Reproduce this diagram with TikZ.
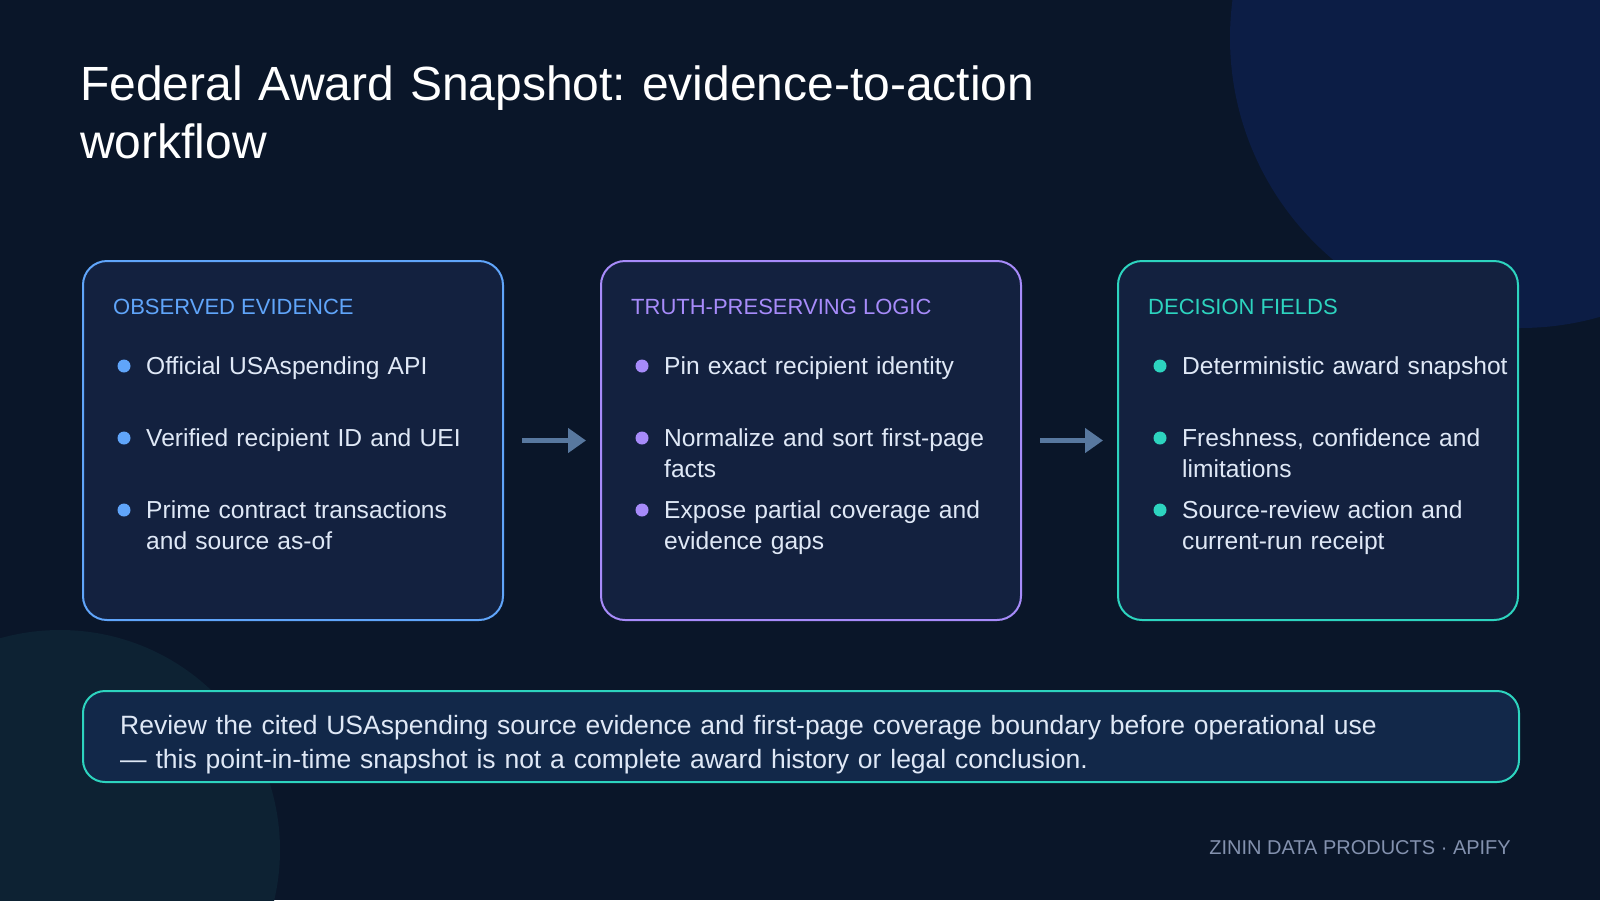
\documentclass[tikz,border=0pt]{standalone}
\usepackage{fontspec}
\setmainfont{Liberation Sans}
\frenchspacing
\usetikzlibrary{arrows.meta,positioning}
\definecolor{bgdark}{HTML}{0A1629}
\definecolor{cardfill}{HTML}{13213F}
\definecolor{obsblue}{HTML}{60A5FA}
\definecolor{logicpurple}{HTML}{A78BFA}
\definecolor{fieldteal}{HTML}{2DD4BF}
\definecolor{itemtext}{HTML}{DFE8F6}
\definecolor{arrowgrey}{HTML}{58789F}
\definecolor{footgrey}{HTML}{8391AE}
\definecolor{glowblue}{HTML}{0C1D45}
\definecolor{glowteal}{HTML}{0D2233}
\definecolor{notefill}{HTML}{122849}

\begin{document}
\begin{tikzpicture}[x=1pt,y=-1pt,
  card/.style={draw=#1,line width=2pt,fill=cardfill,rounded corners=24pt,anchor=north west,minimum height=359pt,inner sep=0pt},
  head/.style={anchor=base west,inner sep=0pt,text=#1,font=\fontsize{22}{26}\selectfont},
  item/.style={anchor=base west,inner sep=0pt,text=itemtext,text width=360pt,align=left,font=\fontsize{24.6}{31.5}\selectfont},
  flow/.style={draw=arrowgrey,line width=5pt,-{Triangle[length=18pt,width=24pt]},shorten <=18pt,shorten >=14pt}]
\useasboundingbox (0,0) rectangle (1600,900);
\fill[bgdark] (0,0) rectangle (1600,900);
% background glows
\begin{scope}
\clip (0,0) rectangle (1600,900);
\fill[glowblue] (1520,38) circle (290);
\fill[glowteal] (60,850) circle (220);
\end{scope}

\node[anchor=base west,inner sep=0pt,text=white,text width=1100pt,align=left,font=\fontsize{48}{58}\selectfont] (title) at (80,100) {Federal Award Snapshot: evidence-to-action\\workflow};

% observed evidence
\node[card=obsblue,minimum width=420pt] (obs) at (82,260) {};
\node[head=obsblue] (obsh) at (113,314) {OBSERVED EVIDENCE};
\foreach \i/\t in {0/{Official USAspending API},1/{Verified recipient ID and UEI},2/{Prime contract transactions\\and source as-of}}{
  \fill[obsblue] (124,366+72*\i) circle (6.5);
  \node[item] (obs\i) at (146,374+72*\i) {\t};
}

% truth-preserving logic
\node[card=logicpurple,minimum width=420pt] (logic) at (600,260) {};
\node[head=logicpurple] (logich) at (631,314) {TRUTH-PRESERVING LOGIC};
\foreach \i/\t in {0/{Pin exact recipient identity},1/{Normalize and sort first-page\\facts},2/{Expose partial coverage and\\evidence gaps}}{
  \fill[logicpurple] (642,366+72*\i) circle (6.5);
  \node[item] (logic\i) at (664,374+72*\i) {\t};
}

% decision fields
\node[card=fieldteal,minimum width=400pt] (fields) at (1117,260) {};
\node[head=fieldteal] (fieldsh) at (1148,314) {DECISION FIELDS};
\foreach \i/\t in {0/{Deterministic award snapshot},1/{Freshness, confidence and\\limitations},2/{Source-review action and\\current-run receipt}}{
  \fill[fieldteal] (1160,366+72*\i) circle (6.5);
  \node[item] (fields\i) at (1182,374+72*\i) {\t};
}

\draw[flow] (obs) -- (logic);
\draw[flow] (logic) -- (fields);

% caveat
\node[anchor=north west,draw=fieldteal,line width=2pt,fill=notefill,rounded corners=22pt,minimum width=1436pt,minimum height=91pt,inner sep=0pt] (note) at (82,690) {};
\node[anchor=base west,inner sep=0pt,text=itemtext,text width=1400pt,align=left,font=\fontsize{26.5}{34}\selectfont] (notetxt) at (120,734) {Review the cited USAspending source evidence and first-page coverage boundary before operational use\\— this point-in-time snapshot is not a complete award history or legal conclusion.};

\node[anchor=base east,inner sep=0pt,text=footgrey,font=\fontsize{20}{24}\selectfont] (foot) at (1511,854) {ZININ DATA PRODUCTS · APIFY};
\end{tikzpicture}
\end{document}
